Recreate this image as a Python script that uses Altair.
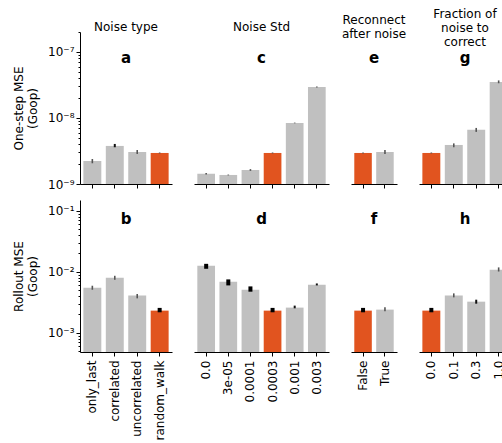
import altair as alt
import pandas as pd

# ---------------- data ----------------
noise_type = ["only_last", "correlated", "uncorrelated", "random_walk"]
noise_std = ["0.0", "3e-05", "0.0001", "0.0003", "0.001", "0.003"]
reconnect = ["False", "True"]
fraction = ["0.0", "0.1", "0.3", "1.0"]

# One-step MSE
a_val = [2.23e-9, 3.77e-9, 3.05e-9, 2.95e-9]
a_lo = [2.06e-9, 3.60e-9, 2.85e-9, 2.90e-9]
a_hi = [2.39e-9, 4.04e-9, 3.27e-9, 3.00e-9]

c_val = [1.43e-9, 1.37e-9, 1.63e-9, 2.95e-9, 8.4e-9, 2.95e-8]
c_lo = [1.39e-9, 1.35e-9, 1.58e-9, 2.90e-9, 8.3e-9, 2.90e-8]
c_hi = [1.47e-9, 1.39e-9, 1.68e-9, 3.00e-9, 8.5e-9, 3.00e-8]

e_val = [2.95e-9, 3.05e-9]
e_lo = [2.90e-9, 2.85e-9]
e_hi = [3.00e-9, 3.27e-9]

g_val = [2.95e-9, 3.9e-9, 6.6e-9, 3.5e-8]
g_lo = [2.90e-9, 3.6e-9, 6.15e-9, 3.35e-8]
g_hi = [3.00e-9, 4.12e-9, 7.06e-9, 3.70e-8]

# Rollout MSE
b_val = [5.48e-3, 7.98e-3, 4.07e-3, 2.31e-3]
b_lo = [5.08e-3, 7.40e-3, 3.67e-3, 2.17e-3]
b_hi = [5.91e-3, 8.60e-3, 4.33e-3, 2.56e-3]

d_val = [1.25e-2, 6.87e-3, 5.08e-3, 2.31e-3, 2.59e-3, 6.13e-3]
d_lo = [1.12e-2, 5.98e-3, 4.72e-3, 2.17e-3, 2.52e-3, 5.98e-3]
d_hi = [1.35e-2, 7.50e-3, 5.76e-3, 2.56e-3, 2.79e-3, 6.44e-3]

f_val = [2.31e-3, 2.40e-3]
f_lo = [2.17e-3, 2.25e-3]
f_hi = [2.56e-3, 2.62e-3]

h_val = [2.31e-3, 4.07e-3, 3.24e-3, 1.08e-2]
h_lo = [2.17e-3, 3.81e-3, 3.00e-3, 1.01e-2]
h_hi = [2.56e-3, 4.43e-3, 3.49e-3, 1.18e-2]

headers = [["Noise type"], ["Noise Std"], ["Reconnect", "after noise"],
           ["Fraction of", "noise to", "correct"]]
row_titles = [["One-step MSE", "(Goop)"], ["Rollout MSE", "(Goop)"]]
highlight = ["random_walk", "0.0003", "False", "0.0"]

# ---------------- style ----------------
FONT = "DejaVu Sans"
GRAY = "#c0c0c0"
ORANGE = "#e1541f"
BOLD_ERR = {("b", "random_walk"), ("d", "0.0"), ("d", "3e-05"), ("d", "0.0001"),
            ("d", "0.0003"), ("f", "False"), ("h", "0.0")}
MID_ERR = {("d", "0.001"), ("d", "0.003"), ("h", "0.3"), ("a", "correlated")}
TITLE_OFFSETS = [-13, -7, -13.5, -21.5]

cats_list = [noise_type, noise_std, reconnect, fraction]
widths = [92, 135, 46, 92]
H = 152

top = [("a", a_val, a_lo, a_hi), ("c", c_val, c_lo, c_hi),
       ("e", e_val, e_lo, e_hi), ("g", g_val, g_lo, g_hi)]
bot = [("b", b_val, b_lo, b_hi), ("d", d_val, d_lo, d_hi),
       ("f", f_val, f_lo, f_hi), ("h", h_val, h_lo, h_hi)]

domains = [[1e-9, 2.0e-7], [4.85e-4, 0.15]]
exps = [[-9, -8, -7], [-4, -3, -2, -1]]

MAJOR = "abs(log(datum.value)/LN10 - round(log(datum.value)/LN10)) < 0.001"
LABEL = ("(" + MAJOR + ") ? '10\u207b' + substring('\u2070\u00b9\u00b2\u00b3\u2074\u2075\u2076\u2077\u2078\u2079', "
         "-round(log(datum.value)/LN10), -round(log(datum.value)/LN10) + 1) : ''")


def panel(row, col, spec):
    letter, vals, lo, hi = spec
    cats = cats_list[col]
    w = widths[col]
    dom = domains[row]
    ticks = [k * 10.0 ** e for e in exps[row] for k in range(1, 10)
             if dom[0] * 0.999 <= k * 10.0 ** e <= dom[1] * 1.001]
    ew = []
    ec = []
    for c in cats:
        if (letter, c) in BOLD_ERR:
            ew.append(4.0); ec.append("#000000")
        elif (letter, c) in MID_ERR:
            ew.append(2.0); ec.append("#111111")
        else:
            ew.append(1.6); ec.append("#555555")
    df = pd.DataFrame({"cat": cats, "v": vals, "lo": lo, "hi": hi,
                       "hl": [c == highlight[col] for c in cats],
                       "ew": ew, "ec": ec})
    xaxis = alt.Axis(title=None, labels=(row == 1), labelAngle=270, labelPadding=4,
                     labelFont=FONT, labelFontSize=12, labelColor="black",
                     tickSize=4, tickColor="black", domainColor="black", domainWidth=1)
    xscale = alt.Scale(paddingInner=0.2, paddingOuter=0.15)
    yscale = alt.Scale(type="log", domain=dom, nice=False)
    if col == 0:
        yaxis = alt.Axis(title=row_titles[row], values=ticks, labelExpr=LABEL,
                         tickSize={"condition": {"test": MAJOR, "value": 4}, "value": 2},
                         tickColor="black", domainColor="black", domainWidth=1,
                         labelFont=FONT, labelFontSize=12, labelColor="black",
                         labelPadding=2, labelOverlap=False, grid=False,
                         titleFont=FONT, titleFontSize=12, titleFontWeight="normal",
                         titleColor="black", titlePadding=8, titleLineHeight=14)
    else:
        yaxis = None
    base = alt.Chart(df)
    bars = base.mark_bar().encode(
        x=alt.X("cat:N", sort=cats, scale=xscale, axis=xaxis),
        y=alt.Y("v:Q", scale=yscale, axis=yaxis),
        y2=alt.datum(dom[0]),
        color=alt.condition("datum.hl", alt.value(ORANGE), alt.value(GRAY)),
    )
    errs = base.mark_rule().encode(
        x=alt.X("cat:N", sort=cats, scale=xscale, axis=xaxis),
        y=alt.Y("lo:Q", scale=yscale, axis=yaxis),
        y2="hi:Q",
        color=alt.Color("ec:N", scale=None),
        strokeWidth=alt.StrokeWidth("ew:Q", scale=None),
    )
    lab = alt.Chart(pd.DataFrame({"t": [letter]})).mark_text(
        font=FONT, fontSize=15, fontWeight="bold", baseline="alphabetic",
        align="center", color="black"
    ).encode(text="t:N", x=alt.value(w / 2), y=alt.value(31 if row == 0 else 24))
    props = dict(width=w, height=H)
    if row == 0:
        props["title"] = alt.TitleParams(text=headers[col], font=FONT, fontSize=12,
                                         fontWeight="normal", color="black",
                                         baseline="middle", offset=TITLE_OFFSETS[col],
                                         lineHeight=14)
    return alt.layer(bars, errs, lab).properties(**props)


charts = [panel(0, i, s) for i, s in enumerate(top)] + \
         [panel(1, i, s) for i, s in enumerate(bot)]

chart = alt.concat(*charts, columns=4, spacing={"row": 16, "column": 22},
                   bounds="flush").properties(
    autosize=alt.AutoSizeParams(type="none"),
    padding={"left": 80, "top": 32, "right": 422, "bottom": 411}
).configure_view(stroke=None)

chart.save("out.html", embed_options={"renderer": "svg", "actions": False})
